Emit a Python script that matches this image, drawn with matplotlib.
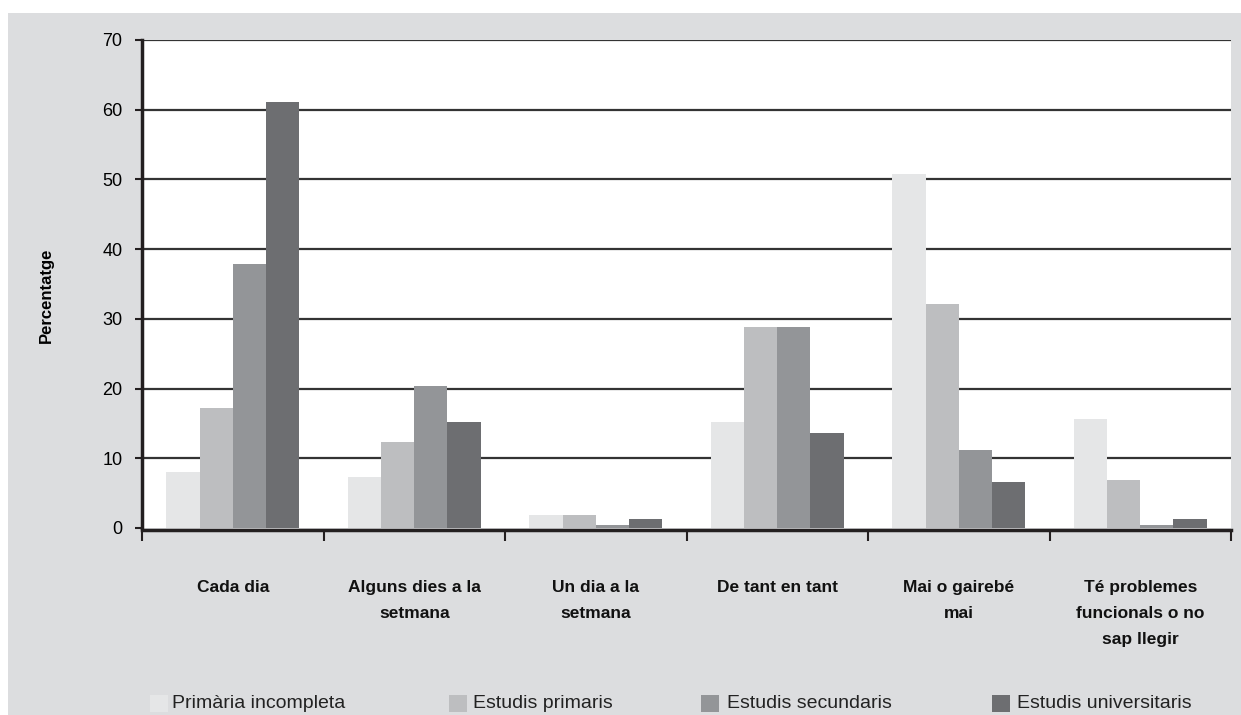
import matplotlib
matplotlib.use("Agg")
import matplotlib.pyplot as plt
from matplotlib.patches import Rectangle
import numpy as np

categories = ["Cada dia", "Alguns dies a la\nsetmana", "Un dia a la\nsetmana",
              "De tant en tant", "Mai o gairebé\nmai",
              "Té problemes\nfuncionals o no\nsap llegir"]
series_names = ["Primària incompleta", "Estudis primaris", "Estudis secundaris", "Estudis universitaris"]
primaria_incompleta = [8.1, 7.3, 1.8, 15.2, 50.8, 15.6]
estudis_primaris = [17.2, 12.3, 1.8, 28.9, 32.2, 6.9]
estudis_secundaris = [37.8, 20.3, 0.5, 28.9, 11.2, 0.5]
estudis_universitaris = [61.1, 15.2, 1.3, 13.6, 6.6, 1.3]
series = [primaria_incompleta, estudis_primaris, estudis_secundaris, estudis_universitaris]
colors = ["#e5e6e7", "#bdbec0", "#939598", "#6d6e71"]
y_ticks = [0, 10, 20, 30, 40, 50, 60, 70]

W, H = 1241, 715
fig = plt.figure(figsize=(W / 100, H / 100), dpi=100)
fig.patch.set_facecolor("white")
fig.patches.append(Rectangle((8 / W, 0), 1 - 8 / W, 1 - 13 / H, transform=fig.transFigure,
                             facecolor="#dcdddf", edgecolor="none", zorder=-10))

ax = fig.add_axes([142 / W, 1 - 528 / H, (1231 - 142) / W, (528 - 40) / H])
ax.set_facecolor("white")

n = len(categories)
x = np.arange(n)
bw = 0.183
offsets = (np.arange(4) - 1.5) * bw
for i, (vals, c) in enumerate(zip(series, colors)):
    ax.bar(x + offsets[i], vals, width=bw, color=c, edgecolor="none", zorder=3)

ax.set_xlim(-0.5, n - 0.5)
ax.set_ylim(0, 70)
ax.set_yticks(y_ticks)
ax.set_yticklabels([str(t) for t in y_ticks], fontsize=13, family="Liberation Sans")
ax.hlines(y_ticks[1:], -0.5, n - 0.5, colors="#333333", linewidth=1.6, zorder=1)
ax.set_xticks(np.arange(n + 1) - 0.5)
ax.set_xticklabels([])
ax.tick_params(axis="x", direction="out", length=8, width=1.5, color="#231f20")
ax.tick_params(axis="y", direction="out", length=5, width=1.5, color="#231f20", pad=9)
for s in ["top", "right"]:
    ax.spines[s].set_visible(False)
ax.spines["left"].set_linewidth(2.5)
ax.spines["left"].set_color("#231f20")
ax.spines["bottom"].set_linewidth(2.5)
ax.spines["bottom"].set_color("#231f20")
ax.spines["bottom"].set_position(("outward", 1.5))
ax.spines["bottom"].set_zorder(5)

trans = ax.get_xaxis_transform()
for i, lab in enumerate(categories):
    ax.text(i, -52 / 488, lab, transform=trans, ha="center", va="top",
            fontsize=12.5, fontweight="bold", family="Liberation Sans", linespacing=1.92,
            color="#111111")

fig.text(46 / W, 1 - 295 / H, "Percentatge", rotation=90, ha="center", va="center",
         fontsize=12, fontweight="bold", family="Liberation Sans")

# legend
leg_sq_x = [150, 449, 701, 992]
leg_tx_x = [172, 473, 727, 1017]
for name, c, sx, tx in zip(series_names, colors, leg_sq_x, leg_tx_x):
    fig.patches.append(Rectangle((sx / W, 1 - 712 / H), 18 / W, 17 / H, transform=fig.transFigure,
                                 facecolor=c, edgecolor="none"))
    fig.text(tx / W, 1 - 704 / H, name, ha="left", va="center", fontsize=14,
             family="Liberation Sans", color="#222222")

fig.savefig("out.png", dpi=100, facecolor=fig.get_facecolor())
